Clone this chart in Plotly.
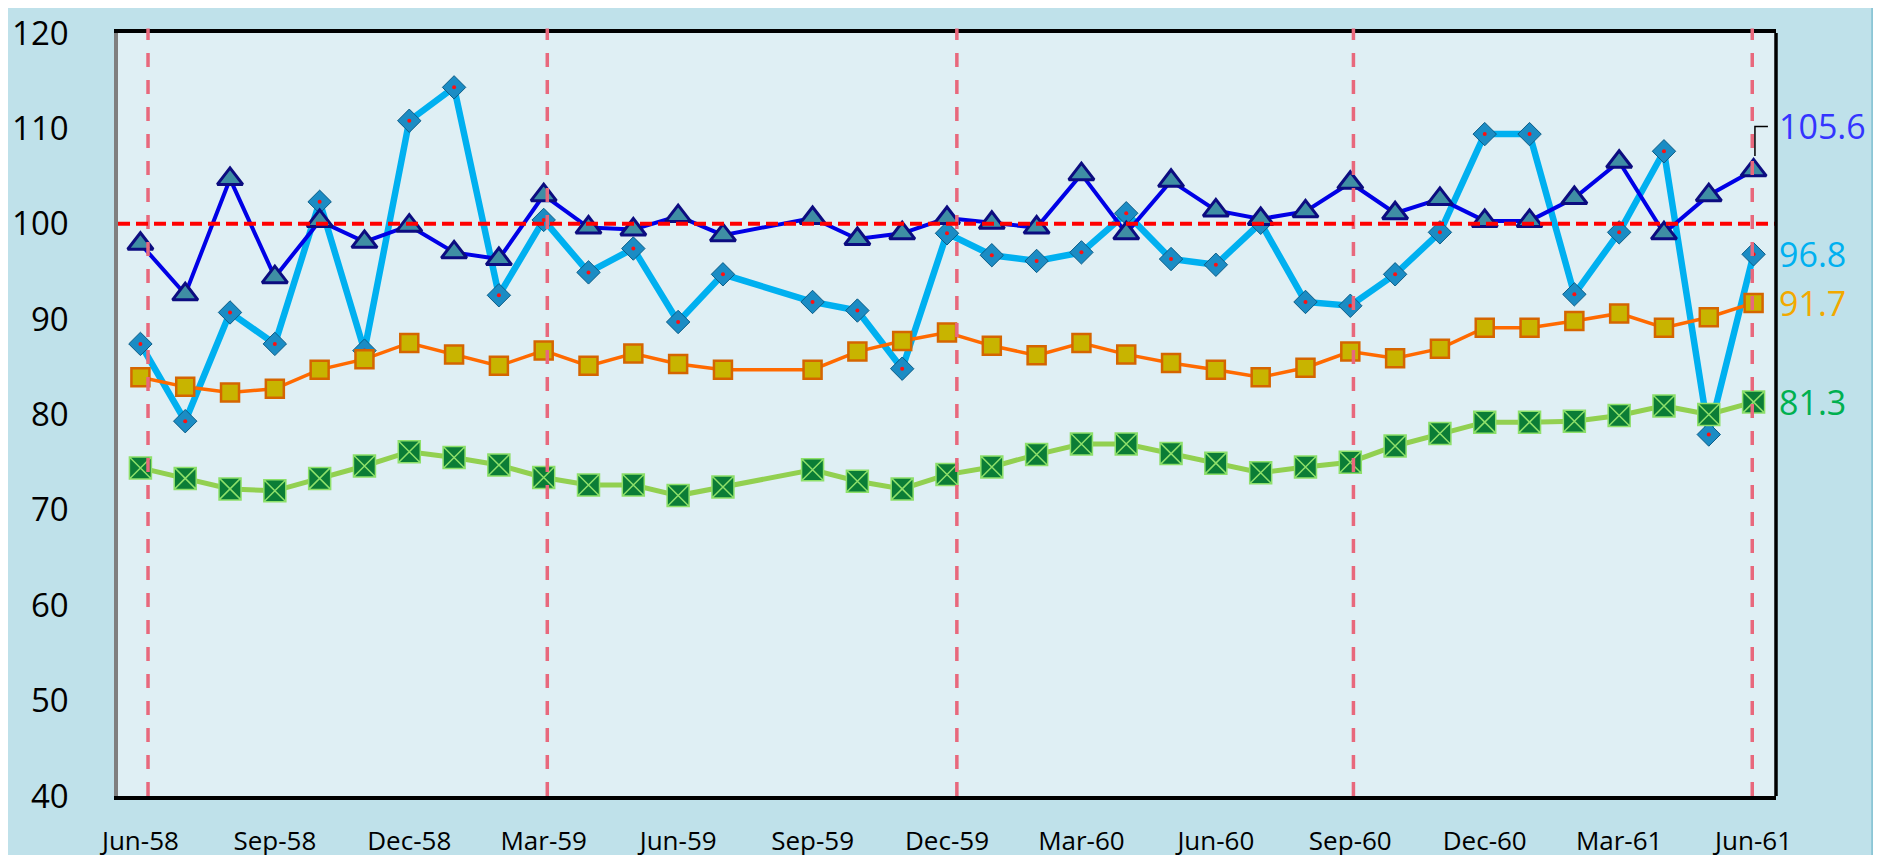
import plotly.graph_objects as go

months = ['Jun-58', 'Jul-58', 'Aug-58', 'Sep-58', 'Oct-58', 'Nov-58', 'Dec-58', 'Jan-59', 'Feb-59',
          'Mar-59', 'Apr-59', 'May-59', 'Jun-59', 'Jul-59', 'Aug-59', 'Sep-59', 'Oct-59', 'Nov-59',
          'Dec-59', 'Jan-60', 'Feb-60', 'Mar-60', 'Apr-60', 'May-60', 'Jun-60', 'Jul-60', 'Aug-60',
          'Sep-60', 'Oct-60', 'Nov-60', 'Dec-60', 'Jan-61', 'Feb-61', 'Mar-61', 'Apr-61', 'May-61',
          'Jun-61']
tick_labels = months[::3]

# dark blue series (triangles)
blue = [97.9, 92.6, 104.7, 94.4, 100.3, 98.1, 99.8, 97.0, 96.3, 103.0, 99.6, 99.4,
        100.8, 98.8, None, 100.6, 98.4, 99.0, 100.6, 100.1, 99.6, 105.2, 99.0, 104.5,
        101.4, 100.5, 101.3, 104.3, 101.1, 102.6, 100.3, 100.3, 102.7, 106.5, 99.0, 103.0,
        105.6]
# light blue series (diamonds)
cyan = [87.4, 79.3, 90.7, 87.4, 102.3, 86.7, 110.8, 114.3, 92.5, 100.4, 94.9, 97.4,
        89.7, 94.7, None, 91.8, 90.9, 84.8, 99.0, 96.7, 96.1, 97.0, 101.1, 96.3,
        95.7, 100.1, 91.8, 91.4, 94.7, 99.1, 109.4, 109.4, 92.6, 99.1, 107.6, 77.9,
        96.8]
# orange series (squares)
orange = [83.9, 82.9, 82.3, 82.7, 84.7, 85.8, 87.5, 86.3, 85.1, 86.7, 85.1, 86.4,
          85.3, 84.7, None, 84.7, 86.6, 87.7, 88.6, 87.2, 86.2, 87.5, 86.3, 85.4,
          84.7, 83.9, 84.9, 86.6, 85.9, 86.9, 89.1, 89.1, 89.8, 90.6, 89.1, 90.2,
          91.7]
# green series (squares with x)
green = [74.4, 73.3, 72.2, 72.0, 73.3, 74.6, 76.1, 75.5, 74.7, 73.4, 72.6, 72.6,
         71.5, 72.4, None, 74.2, 73.0, 72.2, 73.7, 74.5, 75.8, 76.9, 76.9, 75.9,
         74.9, 73.9, 74.5, 75.0, 76.7, 78.0, 79.2, 79.2, 79.3, 79.9, 80.9, 80.0,
         81.3]

target = 100
quarter_lines = [0.17, 9.08, 18.22, 27.07, 35.97]

FONT = 'Open Sans'

fig = go.Figure()

fig.add_trace(go.Scatter(x=months, y=cyan, mode='lines+markers', connectgaps=True,
                         line=dict(color='#00b0f0', width=6.5),
                         marker=dict(symbol='diamond', size=18, color='#1b8cc4',
                                     line=dict(color='#0b5c86', width=1))))
fig.add_trace(go.Scatter(x=months, y=cyan, mode='markers',
                         marker=dict(symbol='circle', size=4, color='#ff1010')))

fig.add_trace(go.Scatter(x=months, y=orange, mode='lines+markers', connectgaps=True,
                         line=dict(color='#ff6a00', width=3.5),
                         marker=dict(symbol='square', size=18, color='#c8b400',
                                     line=dict(color='#d56500', width=2.5))))

fig.add_trace(go.Scatter(x=months, y=blue, mode='lines+markers', connectgaps=True,
                         line=dict(color='#0000e6', width=4),
                         marker=dict(symbol='triangle-up', size=22, color='#3f8ea4',
                                     line=dict(color='#0c0c80', width=3))))

fig.add_trace(go.Scatter(x=months, y=green, mode='lines+markers', connectgaps=True,
                         line=dict(color='#92d050', width=5),
                         marker=dict(symbol='square-x', size=22, color='#0b7d36',
                                     line=dict(color='#8ee06a', width=1.5))))

shapes = []
for xv in quarter_lines:
    shapes.append(dict(type='line', xref='x', yref='paper', x0=xv, x1=xv, y0=0, y1=1.006,
                       line=dict(color='#e8687c', width=3.5, dash='14px,13px')))
shapes.append(dict(type='line', xref='paper', yref='y', x0=0, x1=1, y0=target, y1=target,
                   line=dict(color='#ff0000', width=4, dash='12px,6px')))
# right border of plot area and outer frame
shapes.append(dict(type='line', xref='paper', yref='paper', x0=1, x1=1, y0=0, y1=1,
                   line=dict(color='black', width=3.5)))
shapes.append(dict(type='line', xref='paper', yref='paper', x0=1.058, x1=1.058, y0=-0.1, y1=1.1,
                   line=dict(color='#8cc6d6', width=2)))

# leader line for the top label
last = len(months) - 1
label_y = blue[-1] + 4.6
shapes.append(dict(type='path', xref='x', yref='y',
                   path=f'M {last + 0.03},{blue[-1] + 1.5} L {last + 0.03},{label_y} L {last + 0.32},{label_y}',
                   line=dict(color='black', width=1.5)))

annotations = []
for val, ypos, col in [(blue[-1], label_y, '#3434ff'), (cyan[-1], cyan[-1], '#00b0f0'),
                       (orange[-1], orange[-1], '#f2a900'), (green[-1], green[-1], '#00b050')]:
    annotations.append(dict(xref='paper', yref='y', x=1, y=ypos, text=f'{val:.1f}',
                            showarrow=False, xanchor='left', yanchor='middle', xshift=1,
                            font=dict(family=FONT, size=34, color=col)))

fig.update_layout(
    width=1881, height=855,
    margin=dict(l=110, r=113, t=25, b=67, autoexpand=False),
    paper_bgcolor='#bfe1ea',
    plot_bgcolor='#dfeff4',
    showlegend=False,
    shapes=shapes,
    annotations=annotations,
    font=dict(family=FONT, color='black'),
)

fig.update_xaxes(
    type='category', range=[-0.5, 36.5], automargin=False,
    tickmode='array', tickvals=tick_labels, ticktext=tick_labels,
    tickfont=dict(family=FONT, size=26, color='black'),
    showgrid=False, zeroline=False, ticks='',
    showline=True, linecolor='black', linewidth=3.5, mirror=True,
    ticklabelstandoff=19, ticklabeloverflow='allow',
)
fig.update_yaxes(
    range=[40, 120], dtick=10, automargin=False,
    tickfont=dict(family=FONT, size=33, color='black'),
    showgrid=False, zeroline=False, ticks='',
    showline=True, linecolor='#7f7f7f', linewidth=3.5,
    ticklabelstandoff=39, ticklabeloverflow='allow',
)

fig.write_html('out.html')
